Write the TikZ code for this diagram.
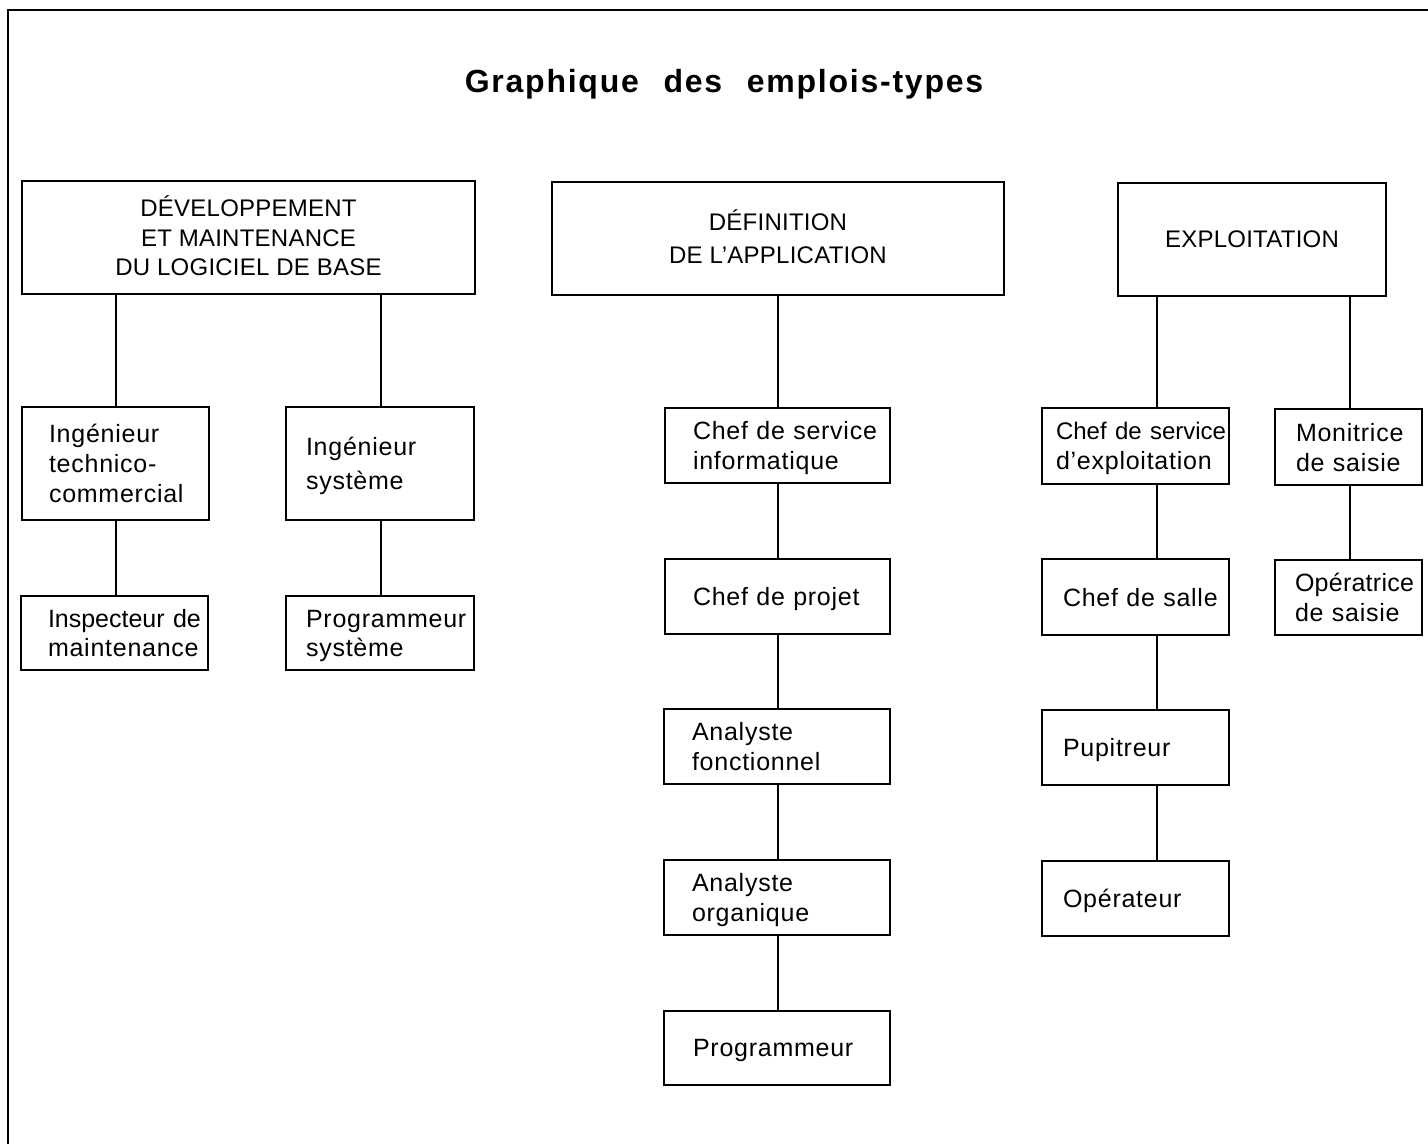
\documentclass[tikz,border=0pt]{standalone}
\usepackage{fontspec}
\setmainfont{Liberation Sans}
\newfontfamily\bodyf{Liberation Sans}[LetterSpace=3]
\newfontfamily\headf{Liberation Sans}[LetterSpace=1]
\newfontfamily\tightf{Liberation Sans}
\newfontfamily\titlef{Liberation Sans}[LetterSpace=5.5]
\newcommand\nb[1]{\mbox{#1}}
\begin{document}
\begin{tikzpicture}[x=1pt,y=-1pt,
  hb/.style={draw, line width=2pt, rectangle, inner sep=0pt, align=center,
    font=\headf\fontsize{24}{29.5}\selectfont},
  jb/.style={draw, line width=2pt, rectangle, inner ysep=0pt, align=left,
    font=\bodyf\fontsize{25}{30}\selectfont},
  link/.style={line width=2pt},
  frame/.style={line width=2.8pt},
  ttl/.style={anchor=base, inner sep=0pt, font=\titlef\bfseries\fontsize{32}{38}\selectfont}]
\useasboundingbox (0,0) rectangle (1428,1144);
\fill[white] (0,0) rectangle (1428,1144);
% frame
\coordinate (ftr) at (1428,10);
\coordinate (ftl) at (8,10);
\coordinate (fbl) at (8,1144);
\draw[frame] (ftr) -- (ftl) -- (fbl);
% title
\node[ttl] (title) at (724,92) {Graphique\hspace{14pt} des\hspace{14pt} emplois-types};
% headers
\node[hb, minimum width=453pt, minimum height=113pt, text depth=3pt] (dev) at (248.5,237.5)
  {DÉVELOPPEMENT\\ET MAINTENANCE\\DU LOGICIEL DE BASE};
\node[hb, minimum width=452pt, minimum height=113pt, text depth=4pt, font=\headf\fontsize{24}{33}\selectfont] (def) at (778,238.5)
  {DÉFINITION\\DE L’APPLICATION};
\node[hb, minimum width=268pt, minimum height=113pt] (exp) at (1252,239.5) {EXPLOITATION};
% left column
\node[jb, minimum width=187pt, minimum height=113pt, inner xsep=27pt, text width=133pt, text depth=60pt] (it) at (115.5,463.5)
  {\nb{Ingénieur}\\\nb{technico-}\\\nb{commercial}};
\node[jb, minimum width=188pt, minimum height=113pt, inner xsep=20pt, text width=148pt, text depth=34pt,
  font=\bodyf\fontsize{25}{34}\selectfont] (is) at (380,463.5)
  {\nb{Ingénieur}\\\nb{système}};
\node[jb, minimum width=187pt, minimum height=74pt, inner xsep=27pt, text width=133pt, text depth=29pt,
  font=\bodyf\fontsize{25}{29}\selectfont] (im) at (114.5,633)
  {\nb{\tightf Inspecteur de}\\\nb{maintenance}};
\node[jb, minimum width=188pt, minimum height=74pt, inner xsep=20pt, text width=148pt, text depth=29pt,
  font=\bodyf\fontsize{25}{29}\selectfont] (ps) at (380,633)
  {\nb{Programmeur}\\\nb{système}};
% centre column
\node[jb, minimum width=225pt, minimum height=75pt, inner xsep=28pt, text width=169pt, text depth=30pt] (csi) at (777.5,445.5)
  {\nb{Chef de service}\\\nb{informatique}};
\node[jb, minimum width=225pt, minimum height=75pt, inner xsep=28pt, text width=169pt, text depth=0pt] (cp) at (777.5,596.5)
  {\nb{Chef de projet}};
\node[jb, minimum width=226pt, minimum height=75pt, inner xsep=28pt, text width=170pt, text depth=30pt] (af) at (777,746.5)
  {\nb{Analyste}\\\nb{fonctionnel}};
\node[jb, minimum width=226pt, minimum height=75pt, inner xsep=28pt, text width=170pt, text depth=30pt] (ao) at (777,897.5)
  {\nb{Analyste}\\\nb{organique}};
\node[jb, minimum width=226pt, minimum height=74pt, inner xsep=29pt, text width=168pt, text depth=0pt] (pg) at (777,1048)
  {\nb{Programmeur}};
% right columns
\node[jb, minimum width=187pt, minimum height=76pt, inner xsep=14pt, text width=159pt, text depth=30pt] (cse) at (1135.5,446)
  {\nb{\tightf\fontsize{24}{30}\selectfont Chef de service}\\\nb{d’exploitation}};
\node[jb, minimum width=187pt, minimum height=76pt, inner xsep=21pt, text width=145pt, text depth=0pt] (cs) at (1135.5,597)
  {\nb{Chef de salle}};
\node[jb, minimum width=187pt, minimum height=75pt, inner xsep=21pt, text width=145pt, text depth=0pt] (pu) at (1135.5,747.5)
  {\nb{Pupitreur}};
\node[jb, minimum width=187pt, minimum height=75pt, inner xsep=21pt, text width=145pt, text depth=0pt] (op) at (1135.5,898.5)
  {\nb{Opérateur}};
\node[jb, minimum width=147pt, minimum height=76pt, inner xsep=21pt, text width=105pt, text depth=30pt] (mo) at (1348.5,447)
  {\nb{Monitrice}\\\nb{de saisie}};
\node[jb, minimum width=147pt, minimum height=75pt, inner xsep=20pt, text width=107pt, text depth=30pt] (ot) at (1348.5,597.5)
  {\nb{\headf Opératrice}\\\nb{de saisie}};
% connectors
\draw[link] ([xshift=0.5pt]it.north) -- ([xshift=0.5pt]it.north |- dev.south);
\draw[link] ([xshift=1pt]is.north) -- ([xshift=1pt]is.north |- dev.south);
\draw[link] ([xshift=0.5pt]it.south) -- ([xshift=0.5pt]it.south |- im.north);
\draw[link] ([xshift=1pt]is.south) -- ([xshift=1pt]is.south |- ps.north);
\draw[link] (def.south) -- (def.south |- csi.north);
\draw[link] (csi.south -| def.south) -- (cp.north -| def.south);
\draw[link] (cp.south -| def.south) -- (af.north -| def.south);
\draw[link] (af.south -| def.south) -- (ao.north -| def.south);
\draw[link] (ao.south -| def.south) -- (pg.north -| def.south);
\draw[link] ([xshift=21.5pt]cse.north) -- ([xshift=21.5pt]cse.north |- exp.south);
\draw[link] ([xshift=21.5pt]cse.south) -- ([xshift=21.5pt]cse.south |- cs.north);
\draw[link] ([xshift=21.5pt]cs.south) -- ([xshift=21.5pt]cs.south |- pu.north);
\draw[link] ([xshift=21.5pt]pu.south) -- ([xshift=21.5pt]pu.south |- op.north);
\draw[link] ([xshift=1.5pt]mo.north) -- ([xshift=1.5pt]mo.north |- exp.south);
\draw[link] ([xshift=1.5pt]mo.south) -- ([xshift=1.5pt]mo.south |- ot.north);
\end{tikzpicture}
\end{document}
